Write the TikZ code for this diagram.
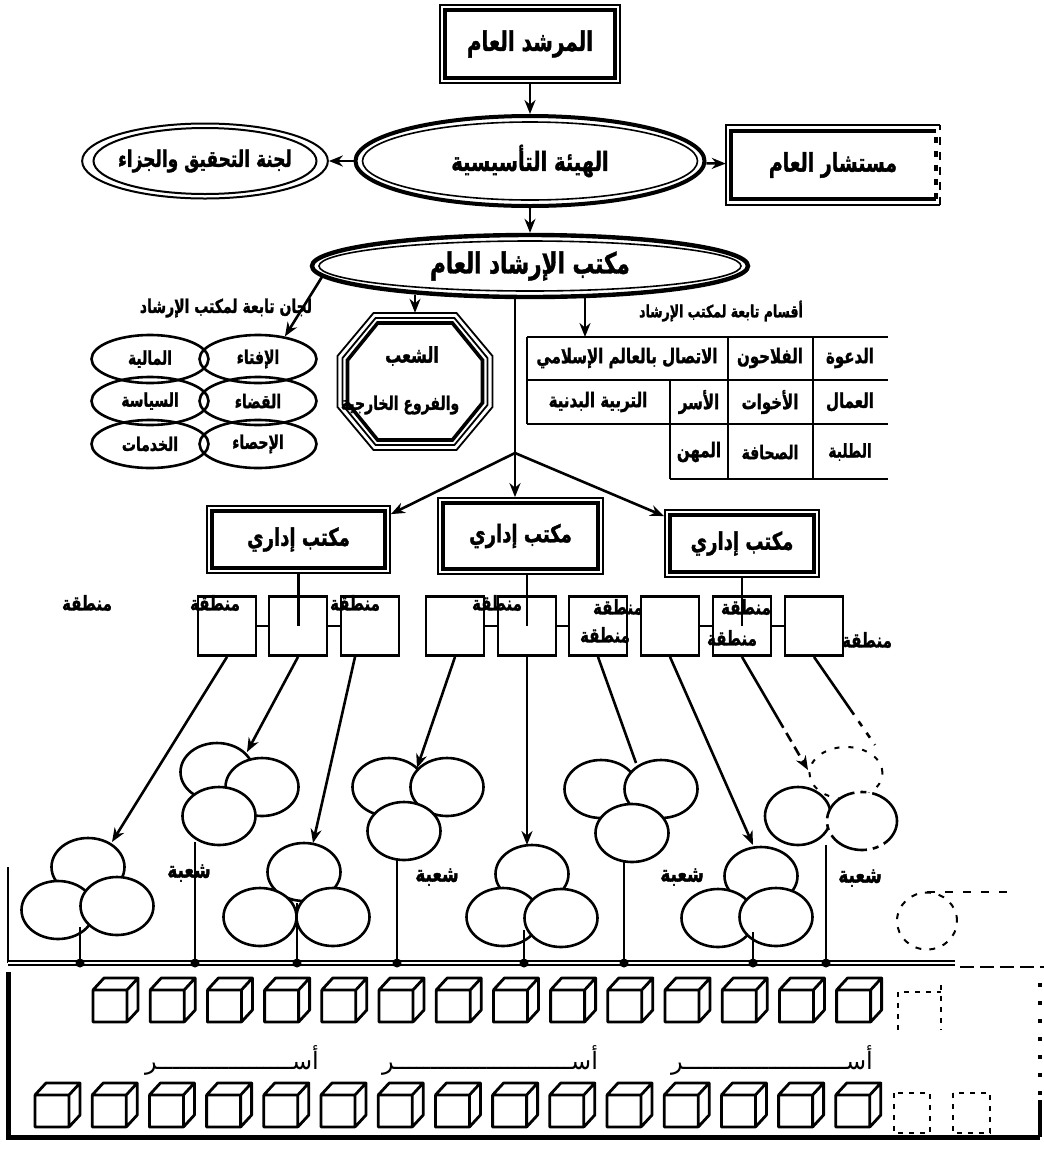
\documentclass[tikz,border=0pt]{standalone}
\usepackage{graphicx}
\usepackage{fontspec}
\newfontfamily\arf[Script=Arabic, BoldFeatures={FakeBold=1.6}]{DejaVu Sans}
\TeXXeTstate=1
\usetikzlibrary{shapes.geometric,arrows.meta,calc}
\newcommand{\AR}[1]{\scalebox{1}[1.35]{\beginR#1\endR}}
\newcommand{\ARp}[1]{\beginR#1\endR}
\begin{document}
\begin{tikzpicture}[x=1pt,y=-1pt,
  ln/.style={line width=2.6pt},
  arr/.style={line width=2.6pt,-{Stealth[length=14pt,width=11pt]}},
  atxt/.style={font=\arf\bfseries\fontsize{#1}{#1}\selectfont, inner sep=0pt},
  ptxt/.style={font=\arf\fontsize{#1}{#1}\selectfont, inner sep=0pt},
  blob/.style={ellipse, draw, fill=white, line width=2.6pt, minimum width=73pt, minimum height=58pt, inner sep=0pt},
  zone/.style={draw, line width=2.8pt, minimum width=58pt, minimum height=59pt, inner sep=0pt},
  comm/.style={ellipse, draw, line width=2.6pt, minimum width=117pt, minimum height=48pt, inner sep=0pt},
  office/.style={draw, line width=1.8pt, inner sep=0pt},
  tabl/.style={line width=2.8pt},
  bdot/.style={circle, fill=black, inner sep=0pt, minimum size=9pt},
  cubepic/.pic={\draw[line width=2.8pt, line join=round] (0,0) rectangle (34,32) (0,0) -- (11,-12) -- (45,-12) -- (34,0) (45,-12) -- (45,20) -- (34,32);}
]
\useasboundingbox (0,0) rectangle (1044,1152);

% ---------- top level ----------
\node[draw, line width=2pt, minimum width=180pt, minimum height=78pt, atxt=20] (murshid) at (530,44) {\AR{المرشد العام}};
\draw[line width=4.4pt] ([shift={(6pt,-6pt)}]murshid.north west) rectangle ([shift={(-6pt,6pt)}]murshid.south east);

\node[ellipse, draw, line width=4pt, minimum width=349pt, minimum height=90pt, atxt=19.5] (hay) at (530,161) {\AR{الهيئة التأسيسية}};
\draw[line width=1.6pt] (hay.center) ellipse [x radius=167.5pt, y radius=39pt];

\node[ellipse, draw, line width=2pt, minimum width=234pt, minimum height=75pt, atxt=17] (lajna) at (205,161) {\AR{لجنة التحقيق والجزاء}};
\draw[line width=2pt] (lajna.center) ellipse [x radius=111.5pt, y radius=33pt];

\node[minimum width=214pt, minimum height=79pt, atxt=19] (must) at (833,165) {\AR{مستشار العام}};
\draw[line width=2pt] (must.north east) -- (must.north west) -- (must.south west) -- (must.south east);
\draw[line width=2pt, dash pattern=on 8pt off 7pt] (must.south east) -- (must.north east);
\draw[line width=4pt] ([shift={(-4pt,-5.5pt)}]must.north east) -- ([shift={(5.5pt,-5.5pt)}]must.north west) -- ([shift={(5.5pt,5.5pt)}]must.south west) -- ([shift={(-4pt,5.5pt)}]must.south east);
\draw[line width=4pt, dash pattern=on 6pt off 8pt] ([shift={(-4pt,5.5pt)}]must.south east) -- ([shift={(-4pt,-5.5pt)}]must.north east);

\node[ellipse, draw, line width=4.4pt, minimum width=436pt, minimum height=62pt, atxt=21.5] (mak) at (530,266) {\AR{مكتب الإرشاد العام}};
\draw[line width=1.6pt] (mak.center) ellipse [x radius=211pt, y radius=25pt];

\draw[arr] (murshid) -- (hay);
\draw[arr] (hay) -- (lajna);
\draw[arr] (hay) -- (must);
\draw[arr] (hay) -- (mak);

% ---------- committees ----------
\node[atxt=14] (lijanL) at (226,308) {\AR{لجان تابعة لمكتب الإرشاد}};
\node[comm, atxt=14] (ifta) at (258,359) {\AR{الإفتاء}};
\node[comm, atxt=14] (maliya) at (150,359) {\AR{المالية}};
\node[comm, atxt=14] (qada) at (258,401) {\AR{القضاء}};
\node[comm, atxt=14] (siyasa) at (150,401) {\AR{السياسة}};
\node[comm, atxt=14] (ihsa) at (258,444) {\AR{الإحصاء}};
\node[comm, atxt=14] (khad) at (150,444) {\AR{الخدمات}};
\draw[arr] (mak.183.5) -- (ifta.40);

% ---------- octagon ----------
\node[minimum width=155pt, minimum height=137pt, inner sep=0pt] (octa) at (415,381.5) {};
\foreach \ins/\wd in {0/1.8pt,5/1.8pt,10/3.6pt}{
  \pgfmathsetmacro\A{77.5-\ins}\pgfmathsetmacro\B{68.5-\ins}
  \pgfmathsetmacro\H{41.5-0.414*\ins}\pgfmathsetmacro\V{25.5-0.414*\ins}
  \draw[line width=\wd, line join=miter] ([shift={(-\H,-\B)}]octa.center) -- ([shift={(\H,-\B)}]octa.center) -- ([shift={(\A,-\V)}]octa.center) -- ([shift={(\A,\V)}]octa.center) -- ([shift={(\H,\B)}]octa.center) -- ([shift={(-\H,\B)}]octa.center) -- ([shift={(-\A,\V)}]octa.center) -- ([shift={(-\A,-\V)}]octa.center) -- cycle;
}
\node[atxt=16] (shuab) at (412,356) {\AR{الشعب}};
\node[atxt=14] (furu) at (400,405) {\AR{والفروع الخارجية}};
\coordinate (octaTop) at (octa.north |- mak.south);
\draw[arr] ([yshift=4pt]octaTop) -- (octa.north);

% ---------- sections table ----------
\node[atxt=12.5] (aqsam) at (721,311) {\AR{أقسام تابعة لمكتب الإرشاد}};
\coordinate (tabTop) at (585,337);
\coordinate (tabSrc) at (tabTop |- mak.south);
\draw[arr] ([yshift=2pt]tabSrc) -- (tabTop);
\draw[tabl] (527,337) -- (888,337) (527,380) -- (888,380) (527,424) -- (888,424) (670,479) -- (888,479);
\draw[tabl] (527,337) -- (527,424) (728,337) -- (728,479) (813,337) -- (813,479) (670,380) -- (670,479);
\node[atxt=15] (c11) at (627,358) {\AR{الاتصال بالعالم الإسلامي}};
\node[atxt=15] (c12) at (770,358) {\AR{الفلاحون}};
\node[atxt=15] (c13) at (850,358) {\AR{الدعوة}};
\node[atxt=15] (c21) at (598,402) {\AR{التربية البدنية}};
\node[atxt=15] (c22) at (699,402) {\AR{الأسر}};
\node[atxt=15] (c23) at (770,402) {\AR{الأخوات}};
\node[atxt=15] (c24) at (850,402) {\AR{العمال}};
\node[atxt=15] (c32) at (699,452) {\AR{المهن}};
\node[atxt=14] (c33) at (770,452) {\AR{الصحافة}};
\node[atxt=14] (c34) at (850,452) {\AR{الطلبة}};

% ---------- administrative offices ----------
\node[office, minimum width=183pt, minimum height=67pt, atxt=18] (offl) at (298.5,539.5) {\AR{مكتب إداري}};
\node[office, minimum width=165pt, minimum height=76pt, atxt=18] (offc) at (520.5,536) {\AR{مكتب إداري}};
\node[office, minimum width=154pt, minimum height=67pt, atxt=18] (offr) at (742,543.5) {\AR{مكتب إداري}};
\foreach \o in {offl,offc,offr}{
  \draw[line width=4.6pt] ([shift={(6pt,-6pt)}]\o.north west) rectangle ([shift={(-6pt,6pt)}]\o.south east);
}
\coordinate (br) at (515,453);
\coordinate (brTop) at (br |- mak.south);
\draw[ln] (brTop) -- (br);
\draw[arr] (br) -- (br |- offc.north);
\draw[arr] (br) -- ([yshift=-9pt]offl.north east);
\draw[arr] (br) -- ([yshift=-7pt]offr.north west);

% ---------- zones ----------
\foreach \i/\x in {1/227,2/298,3/370,4/455,5/527,6/598,7/670,8/742,9/814}{
  \node[zone] (z\i) at (\x,626) {};
}
\foreach \a/\b in {1/2,2/3,4/5,5/6,7/8,8/9}{ \draw[ln] (z\a) -- (z\b); }
\draw[ln] (offl.south) -- (offl.south |- z2.center);
\draw[ln] (z5.center |- offc.south) -- (z5.center);
\draw[ln] (z8.center |- offr.south) -- (z8.center);
\foreach \n/\x/\y in {a/87/603,b/215/603,c/355/603,d/497/603,e/618/607,f/605/635,g/746/607,h/732/638,k/867/640}{
  \node[atxt=15] (lab\n) at (\x,\y) {\AR{منطقة}};
}

% ---------- branch clusters ----------
\node[blob] (cA1) at (88,867) {};
\node[blob] (cA2) at (58,910) {};
\node[blob] (cA3) at (117,906) {};
\node[blob] (cB1) at (217,772) {};
\node[blob] (cB2) at (262,787) {};
\node[blob] (cB3) at (219,816) {};
\node[blob] (cC1) at (304,872) {};
\node[blob] (cC2) at (260,917) {};
\node[blob] (cC3) at (333,917) {};
\node[blob] (cD1) at (389,787) {};
\node[blob] (cD2) at (447,787) {};
\node[blob] (cD3) at (404,831) {};
\node[blob] (cE1) at (532,874) {};
\node[blob] (cE2) at (503,917) {};
\node[blob] (cE3) at (561,918) {};
\node[blob] (cF1) at (601,789) {};
\node[blob] (cF2) at (661,789) {};
\node[blob] (cF3) at (632,833) {};
\node[blob] (cG1) at (761,876) {};
\node[blob] (cG2) at (718,918) {};
\node[blob] (cG3) at (776,917) {};
\node[blob, line width=2pt, dash pattern=on 5pt off 9pt, minimum height=52pt] (cH3) at (846,773) {};
\node[blob, minimum width=66pt] (cH1) at (798,816) {};
\node[blob, minimum width=70pt, dash pattern=on 40pt off 6pt on 6pt off 6pt] (cH2) at (862,821) {};
\node[blob, line width=2pt, dash pattern=on 6pt off 8pt, minimum width=60pt, minimum height=57pt] (cI) at (927,921) {};
\draw[line width=2pt, dash pattern=on 8pt off 10pt] (cI.north) -- ++(80,0);

\coordinate (tA) at (112,842);
\coordinate (tB) at (247,752);
\coordinate (tC) at (313,843);
\coordinate (tD) at (417,768);
\coordinate (tE) at (527,845);
\coordinate (tF) at (636,763);
\coordinate (tG) at (753,845);
\coordinate (tH) at (808,770);
\coordinate (tI) at (875,745);
\draw[arr] (z1.south) -- (tA);
\draw[arr] (z2.south) -- (tB);
\draw[arr] ([xshift=-15pt]z3.south) -- (tC);
\draw[arr] (z4.south) -- (tD);
\draw[arr] (z5.south) -- (tE);
\draw[ln] (z6.south) -- (tF);
\draw[arr] (z7.south) -- (tG);
\draw[ln] (z8.south) -- ($(z8.south)!0.55!(tH)$);
\draw[arr, dash pattern=on 10pt off 6pt] ($(z8.south)!0.55!(tH)$) -- (tH);
\draw[ln] (z9.south) -- ($(z9.south)!0.6!(tI)$);
\draw[ln, dash pattern=on 6pt off 8pt] ($(z9.south)!0.6!(tI)$) -- (tI);

\foreach \n/\x/\y in {a/189/873,b/437/877,c/682/877,d/860/878}{
  \node[atxt=17] (shu\n) at (\x,\y) {\AR{شعبة}};
}

% ---------- bus ----------
\draw[ln] (8,867) -- (8,963);
\draw[line width=1.8pt, double distance=1.8pt] (8,963) -- (955,963);
\draw[line width=2pt, dash pattern=on 14pt off 6pt] (960,967) -- (1044,967);
\foreach \n/\x/\t in {a/80/927,b/195/842,c/297/903,d/397/858,e/524/930,f/624/862,g/753/932,h/826/845}{
  \node[bdot] (j\n) at (\x,963) {};
  \draw[ln] (j\n.center) -- (\x,\t);
}

% ---------- families ----------
\draw[line width=5pt] (8,972) -- (8,1137) -- (1040,1137);
\draw[line width=4pt] (1040,1137) -- (1040,1100);
\draw[line width=4pt, dash pattern=on 4pt off 14pt] (1040,1095) -- (1040,975);
\foreach \k in {0,...,13}{ \pic at ({93+57.2*\k},990) {cubepic}; }
\foreach \k in {0,...,14}{ \pic at ({35+57.2*\k},1095) {cubepic}; }
\draw[line width=2pt, dash pattern=on 5pt off 6pt] (898,1030) -- (898,992) -- (941,992) (941,985) -- (941,1030);
\draw[line width=2pt, dash pattern=on 5pt off 6pt] (894,1093) rectangle (930,1133) (953,1093) rectangle (990,1133);
\node[ptxt=24] (usar1) at (232,1060) {\ARp{أســـــــــــــــــــر}};
\node[ptxt=24] (usar2) at (490,1060) {\ARp{أســـــــــــــــــــــــــر}};
\node[ptxt=24] (usar3) at (772,1060) {\ARp{أســـــــــــــــــــــــر}};
\end{tikzpicture}
\end{document}
